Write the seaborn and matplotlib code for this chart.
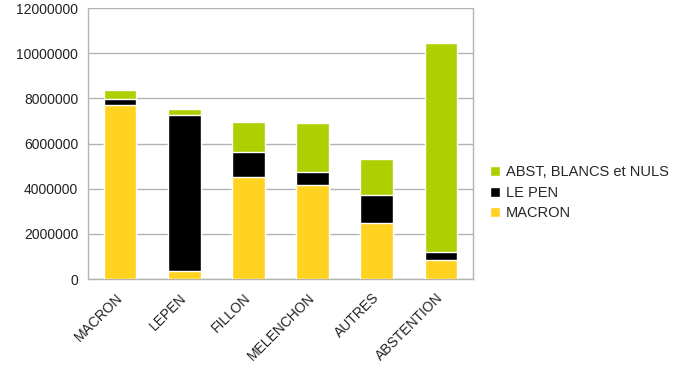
import numpy as np
import pandas as pd
import matplotlib
matplotlib.use('Agg')
import matplotlib.pyplot as plt
import seaborn as sns

categories = ['MACRON', 'LEPEN', 'FILLON', 'MELENCHON', 'AUTRES', 'ABSTENTION']
macron = [7700000, 350000, 4530000, 4170000, 2500000, 820000]
le_pen = [250000, 6910000, 1080000, 560000, 1210000, 360000]
abst_blancs_nuls = [400000, 270000, 1340000, 2190000, 1610000, 9290000]

series_names = ['ABST, BLANCS et NULS', 'LE PEN', 'MACRON']
colors = {'MACRON': '#FFD320', 'LE PEN': '#000000', 'ABST, BLANCS et NULS': '#AECF00'}


def build_frame():
    m = np.array(macron)
    lp = m + np.array(le_pen)
    tot = lp + np.array(abst_blancs_nuls)
    return pd.DataFrame({'cat': categories, 'MACRON': m, 'LE PEN': lp,
                         'ABST, BLANCS et NULS': tot})


def main():
    df = build_frame()
    sns.set_style('white')
    plt.rcParams['font.family'] = ['Liberation Sans', 'DejaVu Sans']

    fig = plt.figure(figsize=(6.84, 3.84), dpi=100)
    ax = fig.add_axes([0.1287, 0.2734, 0.563, 0.7057])

    # stacked bars drawn as cumulative layers, back to front
    for name in series_names:
        sns.barplot(data=df, x='cat', y=name, color=colors[name], width=0.51,
                    saturation=1, ax=ax, label=name, zorder=3)

    ax.set_ylim(0, 12000000)
    ax.set_yticks(range(0, 12000001, 2000000))
    ax.set_yticklabels([str(v) for v in range(0, 12000001, 2000000)], fontsize=10, color='#222222')
    ax.set_xlim(-0.5, len(categories) - 0.5)
    ax.set_xticks(range(len(categories)))
    ax.set_xticklabels(categories, rotation=45, ha='right', va='center',
                       rotation_mode='anchor', fontsize=10, color='#222222')
    ax.set_xlabel('')
    ax.set_ylabel('')

    # boundary ticks between categories like the original
    ax.set_xticks(np.arange(-0.5, len(categories), 1.0), minor=True)
    ax.tick_params(axis='x', which='major', length=0, pad=12)
    ax.tick_params(axis='x', which='minor', length=4, color='#b3b3b3', direction='out')
    ax.tick_params(axis='y', length=4, color='#b3b3b3', direction='out', pad=3)

    ax.yaxis.grid(True, color='#b3b3b3', linewidth=1, zorder=0)
    ax.set_axisbelow(True)
    for s in ['left', 'bottom', 'right']:
        ax.spines[s].set_visible(True)
        ax.spines[s].set_color('#b3b3b3')
        ax.spines[s].set_linewidth(1)
    ax.spines['top'].set_visible(False)

    ax.legend(loc='center left', bbox_to_anchor=(1.01, 0.318), frameon=False,
              fontsize=10.5, handlelength=0.7, handleheight=0.7, handletextpad=0.4,
              labelspacing=0.45)

    fig.savefig('out.png', dpi=100, facecolor='white')


if __name__ == "__main__":
    main()
